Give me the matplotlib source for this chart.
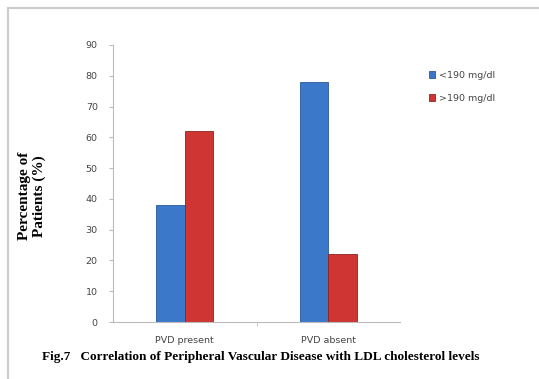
import matplotlib.pyplot as plt
import numpy as np
from matplotlib.patches import Rectangle

categories = ['PVD present', 'PVD absent']
below_190 = [38, 78]
above_190 = [62, 22]
series_names = ['<190 mg/dl', '>190 mg/dl']
yticks = list(range(0, 100, 10))

fig = plt.figure(figsize=(5.39, 3.79), dpi=100)

# light frame around the chart, like the pasted figure
fig.patches.append(Rectangle((8 / 539, -0.1), 1.2, 1 - 8 / 379 + 0.1,
                             transform=fig.transFigure, fill=False,
                             edgecolor='#cccccc', linewidth=1.5))

ax = fig.add_axes([113 / 539, 57 / 379, 287 / 539, 277 / 379])
x = np.arange(len(categories))
w = 0.2
ax.bar(x - w / 2, below_190, w, color='#3b78c9', edgecolor='#2a5a9a', linewidth=0.6, label=series_names[0])
ax.bar(x + w / 2, above_190, w, color='#cf3532', edgecolor='#8f2220', linewidth=0.6, label=series_names[1])

ax.set_xlim(-0.5, 1.5)
ax.set_ylim(0, 90)
ax.set_yticks(yticks)
ax.tick_params(axis='y', labelsize=6.8, labelcolor='#444444', color='#bbbbbb', length=3, pad=8)
ax.set_xticks(x)
ax.set_xticklabels(categories)
ax.set_xticks([0.5], minor=True)
ax.tick_params(axis='x', which='major', length=0, labelsize=6.8, labelcolor='#444444', pad=10)
ax.tick_params(axis='x', which='minor', length=3, color='#bbbbbb')
for s in ['top', 'right']:
    ax.spines[s].set_visible(False)
for s in ['left', 'bottom']:
    ax.spines[s].set_color('#bbbbbb')

ax.set_ylabel('Percentage of\nPatients (%)', fontfamily='Liberation Serif', fontweight='bold',
              fontsize=11, linespacing=1.15)
ax.yaxis.set_label_coords(-0.235, 0.455)

fig.legend(loc='upper left', bbox_to_anchor=(420 / 539, 1 - 62 / 379), frameon=False,
           fontsize=6.8, handlelength=0.7, handleheight=0.7, labelspacing=1.5,
           handletextpad=0.4, labelcolor='#444444')

fig.text(42 / 539, 1 - 357 / 379,
         'Fig.7   Correlation of Peripheral Vascular Disease with LDL cholesterol levels',
         fontfamily='Liberation Serif', fontweight='bold', fontsize=9.5, va='center')

fig.savefig('out.png', dpi=100)
